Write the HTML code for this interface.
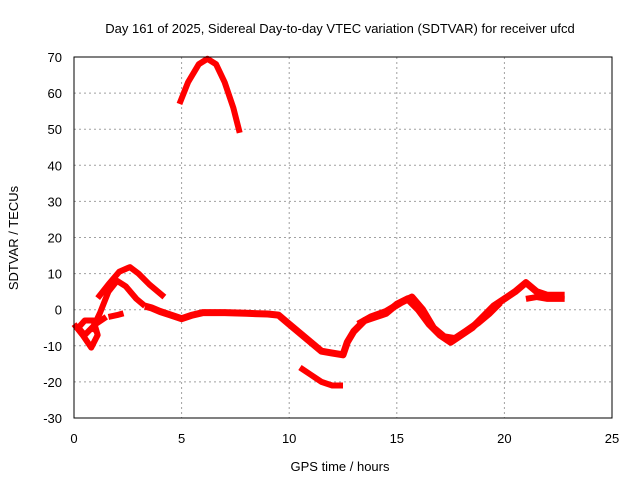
<!DOCTYPE html>
<html><head><meta charset="utf-8"><style>
body{margin:0;background:#fff;}
svg text{font-family:"Liberation Sans",sans-serif;font-size:13px;fill:#000;}
</style></head><body>
<svg id="c" width="640" height="480">
<text x="340" y="33" text-anchor="middle">Day 161 of 2025, Sidereal Day-to-day VTEC variation (SDTVAR) for receiver ufcd</text>
<text x="340" y="471" text-anchor="middle">GPS time / hours</text>
<text transform="translate(18,238) rotate(-90)" text-anchor="middle">SDTVAR / TECUs</text>
<g id="grid"></g><g id="series"></g>
<rect x="74" y="57" width="538" height="361" fill="none" stroke="#000" stroke-width="1"/>
</svg>
<script>
const xTicks=[0,5,10,15,20,25];
const yTicks=[-30,-20,-10,0,10,20,30,40,50,60,70];
const arcTopX=[4.9,5.3,5.8,6.2,6.6,7.0,7.4,7.7];
const arcTopY=[57,63,68,69.5,68,63,56,49];
const arcUpX=[1.1,1.6,2.1,2.6,3.0,3.5,4.2];
const arcUpY=[3.2,7,10.5,11.8,10,7,3.5];
const arc2X=[0.8,1.2,1.6,2.0,2.4,2.9,3.3];
const arc2Y=[-6,-1,5,8,6.5,3,1];
const mainX=[3.3,3.6,4,4.5,5,5.5,6,7,8,9,9.5,10,10.5,11,11.5,12,12.5,12.7,13,13.5,14,14.5,15,15.5,16,16.5,17,17.5,18,18.5,19,19.5,20,20.5,21,21.5,22,22.8];
const mainY=[1,0.5,-0.5,-1.5,-2.5,-1.5,-0.8,-0.8,-1,-1.2,-1.5,-4,-6.5,-9,-11.5,-12,-12.5,-9,-6,-3,-2,-1,1.5,3,0,-4,-7,-9,-7,-5,-2,1,3,5,7.5,5,4,4];
const main2X=[13.2,13.8,14.5,15.2,15.7,16.2,16.7,17.2,17.7,18.2,18.8,19.3,19.8];
const main2Y=[-4,-2,-0.5,2,3.5,0,-5,-7.5,-8,-6,-3.5,-1,2];
const lowX=[10.5,11,11.5,12,12.5];
const lowY=[-16,-18,-20,-21,-21];
const leftX=[0,0.4,0.8,1.1,0.9,0.5,0.2,0.5,1.0,1.5];
const leftY=[-4,-7,-10.5,-7,-3,-3,-5,-7,-4,-2];
const midX=[1.6,2.0,2.3];
const midY=[-2,-1.5,-1];
const side1X=[21,21.5,22,22.8];
const side1Y=[3,3.5,3,3];
const X=h=>74+h*538/25, Y=v=>418-(v+30)*361/100;
const ns="http://www.w3.org/2000/svg", svg=document.getElementById('c');
const g=document.getElementById('grid'), s=document.getElementById('series');
xTicks.forEach(t=>{
 if(t>0&&t<25){const l=document.createElementNS(ns,'line');l.setAttribute('x1',X(t));l.setAttribute('x2',X(t));l.setAttribute('y1',57);l.setAttribute('y2',418);l.setAttribute('stroke','#a0a0a0');l.setAttribute('stroke-dasharray','2,3');
 
 g.appendChild(l);}
 const tx=document.createElementNS(ns,'text');tx.setAttribute('x',X(t));tx.setAttribute('y',443);tx.setAttribute('text-anchor','middle');tx.textContent=t;
 
 g.appendChild(tx);
});
yTicks.forEach(t=>{
 if(t>-30&&t<70){const l=document.createElementNS(ns,'line');l.setAttribute('x1',74);l.setAttribute('x2',612);l.setAttribute('y1',Y(t));l.setAttribute('y2',Y(t));l.setAttribute('stroke','#a0a0a0');l.setAttribute('stroke-dasharray','2,3');
 
 g.appendChild(l);}
 const tx=document.createElementNS(ns,'text');tx.setAttribute('x',62);tx.setAttribute('y',Y(t)+5);tx.setAttribute('text-anchor','end');tx.textContent=t;
 
 g.appendChild(tx);
});
function draw(xs,ys,name,w){
 const p=document.createElementNS(ns,'polyline');
 p.setAttribute('points',xs.map((h,i)=>X(h)+','+Y(ys[i])).join(' '));
 p.setAttribute('fill','none');p.setAttribute('stroke','#ff0000');p.setAttribute('stroke-width',w||6);p.setAttribute('stroke-linejoin','round');
 
 
 s.appendChild(p);
}
draw(arcTopX,arcTopY,'series-top-arc');
draw(arcUpX,arcUpY,'series-upper-arc');
draw(arc2X,arc2Y,'series-second-arc');
draw(mainX,mainY,'series-main',7);
draw(main2X,main2Y,'series-main-secondary',7);
draw(lowX,lowY,'series-low');
draw(leftX,leftY,'series-left');
draw(midX,midY,'series-mid');
draw(side1X,side1Y,'series-side');
</script>
</body></html>
